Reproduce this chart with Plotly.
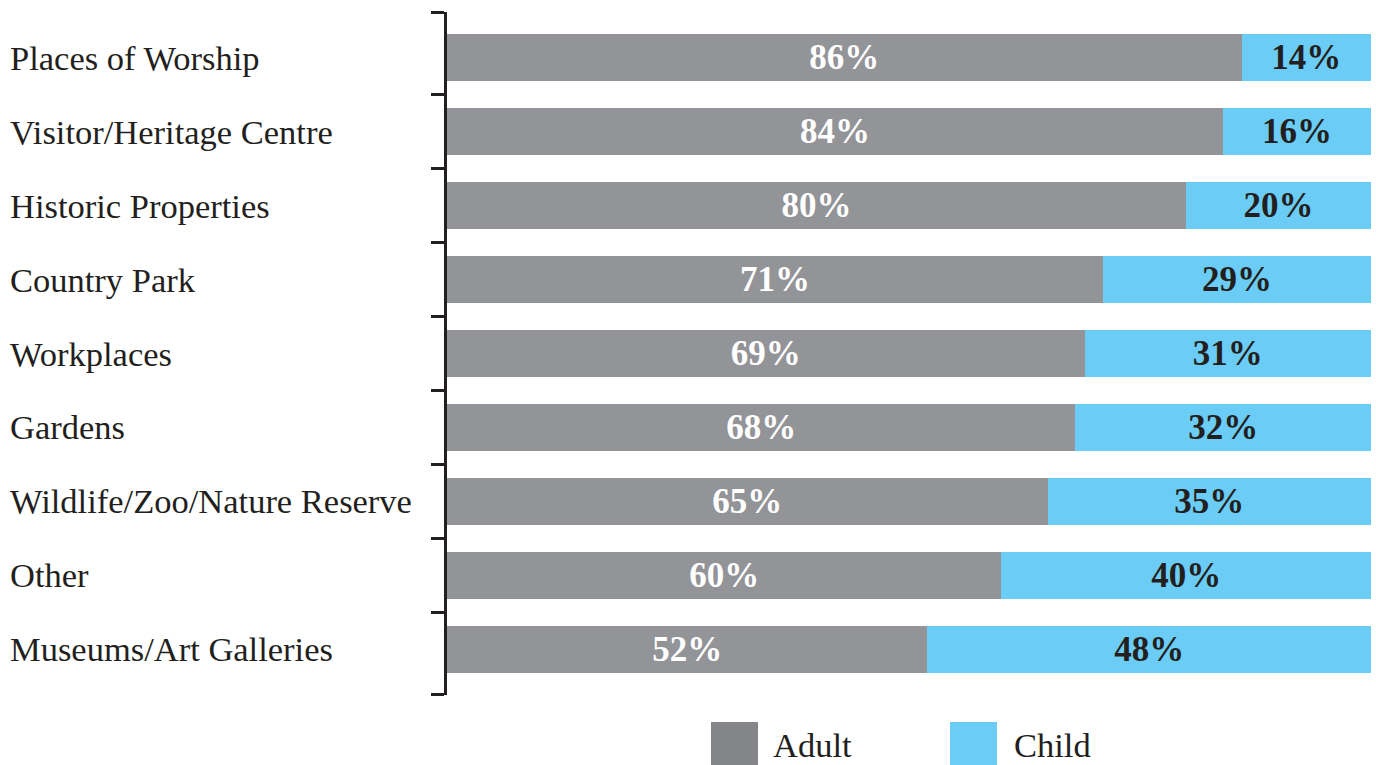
import plotly.graph_objects as go

categories = ["Places of Worship", "Visitor/Heritage Centre", "Historic Properties",
              "Country Park", "Workplaces", "Gardens", "Wildlife/Zoo/Nature Reserve",
              "Other", "Museums/Art Galleries"]
adult = [86, 84, 80, 71, 69, 68, 65, 60, 52]
child = [14, 16, 20, 29, 31, 32, 35, 40, 48]
series_names = ["Adult", "Child"]

W, H = 1376, 765
L, R, T, B = 447, 5, 12, 70
PW, PH = W - L - R, H - T - B
FONT = "Liberation Serif, Times New Roman, serif"
DARK = "#231f20"
ADULT_C = "#939498"
ADULT_LEG = "#848589"
CHILD_C = "#6bcdf5"

n = len(categories)
ypos = list(range(n))
EDGE = 0.62
tickvals = [-EDGE + 0.001] + [i + 0.5 for i in range(n - 1)] + [n - 1 + EDGE - 0.001]

def px_x(px):
    return (px - L) / PW

def px_y(py):
    return (H - B - py) / PH

fig = go.Figure()
fig.add_trace(go.Bar(y=ypos, x=adult, orientation="h", name=series_names[0], width=0.635,
                     marker=dict(color=ADULT_C, line=dict(width=0)),
                     texttemplate="%{x}%", textposition="inside", insidetextanchor="middle",
                     textfont=dict(family=FONT, size=35, color="white", weight="bold"),
                     constraintext="none", hoverinfo="skip"))
fig.add_trace(go.Bar(y=ypos, x=child, orientation="h", name=series_names[1], width=0.635,
                     marker=dict(color=CHILD_C, line=dict(width=0)),
                     texttemplate="%{x}%", textposition="inside", insidetextanchor="middle",
                     textfont=dict(family=FONT, size=35, color=DARK, weight="bold"),
                     constraintext="none", hoverinfo="skip"))

annotations = []
for i, c in enumerate(categories):
    annotations.append(dict(x=px_x(8), xref="paper", y=ypos[i], yref="y", text=c,
                            showarrow=False, xanchor="left", yanchor="middle",
                            font=dict(family=FONT, size=34.5, color=DARK)))

shapes = []
legend_items = [(series_names[0], ADULT_LEG, 711, 771), (series_names[1], CHILD_C, 950, 1012)]
for name, col, sx, tx in legend_items:
    shapes.append(dict(type="rect", xref="paper", yref="paper",
                       x0=px_x(sx), x1=px_x(sx + 47), y0=px_y(766), y1=px_y(722),
                       fillcolor=col, line=dict(width=0)))
    annotations.append(dict(x=px_x(tx), xref="paper", y=px_y(745), yref="paper", text=name,
                            showarrow=False, xanchor="left", yanchor="middle",
                            font=dict(family=FONT, size=34.5, color=DARK)))

fig.update_layout(
    width=W, height=H,
    margin=dict(l=L, r=R, t=T, b=B),
    barmode="stack",
    showlegend=False,
    plot_bgcolor="white", paper_bgcolor="white",
    xaxis=dict(range=[0, 100], visible=False, fixedrange=True),
    yaxis=dict(range=[n - 1 + EDGE, -EDGE], showticklabels=False,
               tickmode="array", tickvals=tickvals,
               ticks="outside", ticklen=13, tickwidth=2.5, tickcolor=DARK,
               showline=True, linewidth=2.5, linecolor=DARK, showgrid=False,
               zeroline=False, fixedrange=True),
    annotations=annotations, shapes=shapes,
)
fig.write_html("out.html", config={"displayModeBar": False},
               post_script="document.body.style.margin='0';document.body.style.overflow='hidden';")
